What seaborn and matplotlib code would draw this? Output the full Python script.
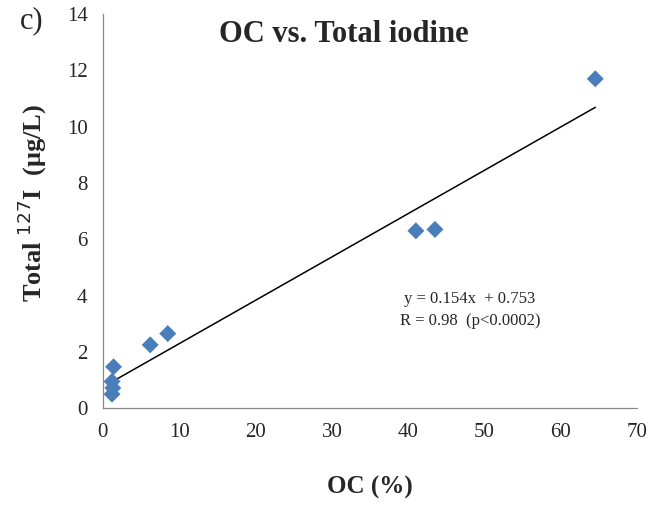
import numpy as np
import pandas as pd
import matplotlib
matplotlib.use("Agg")
import matplotlib.pyplot as plt
import seaborn as sns

# OC (%) vs total 127I (ug/L)
oc = [64.5, 41.0, 43.5, 8.5, 6.2, 1.4, 1.2, 1.3, 1.2]
iodine = [11.7, 6.3, 6.35, 2.65, 2.25, 1.47, 0.95, 0.72, 0.5]
slope = 0.154
intercept = 0.753
x_ticks = [0, 10, 20, 30, 40, 50, 60, 70]
y_ticks = [0, 2, 4, 6, 8, 10, 12, 14]

sns.set_style("white")
plt.rcParams['font.family'] = ['Liberation Serif', 'DejaVu Serif']

df = pd.DataFrame({"oc": oc, "iodine": iodine})
fit_x = np.array([min(oc), max(oc)])
fit = pd.DataFrame({"oc": fit_x, "iodine": slope * fit_x + intercept})

fig = plt.figure(figsize=(6.68, 5.2), dpi=100)
ax = fig.add_axes([0.154, 0.215, 0.8, 0.758])

sns.lineplot(data=fit, x="oc", y="iodine", ax=ax, color="black", linewidth=1.1)
sns.scatterplot(data=df, x="oc", y="iodine", ax=ax, marker="D", s=75,
                color="#4a7ebb", edgecolor="none", zorder=3)

ax.set_xlim(0, 70)
ax.set_ylim(0, 14)
ax.set_xticks(x_ticks)
ax.set_yticks(y_ticks)
ax.tick_params(axis="both", direction="out", length=5, width=0.8,
               color="#888888", labelsize=15, pad=6)
for side in ["top", "right"]:
    ax.spines[side].set_visible(False)
for side in ["left", "bottom"]:
    ax.spines[side].set_color("#888888")
    ax.spines[side].set_linewidth(0.9)

ax.set_xlabel("OC (%)", fontsize=18, fontweight="bold", labelpad=24)
ax.set_ylabel("Total $^{\\mathrm{127}}$I  (μg/L)", fontsize=19, fontweight="bold")
ax.yaxis.set_label_coords(-0.1, 0.52)
ax.text(0.451, 0.947, "OC vs. Total iodine", transform=ax.transAxes,
        ha="center", va="center", fontsize=22, fontweight="bold")
ax.text(0.687, 0.277, "y = 0.154x  + 0.753", transform=ax.transAxes,
        ha="center", va="center", fontsize=12)
ax.text(0.687, 0.221, "R = 0.98  (p<0.0002)", transform=ax.transAxes,
        ha="center", va="center", fontsize=12)
fig.text(0.03, 0.945, "c)", fontsize=22)

fig.savefig("out.png", dpi=100)
